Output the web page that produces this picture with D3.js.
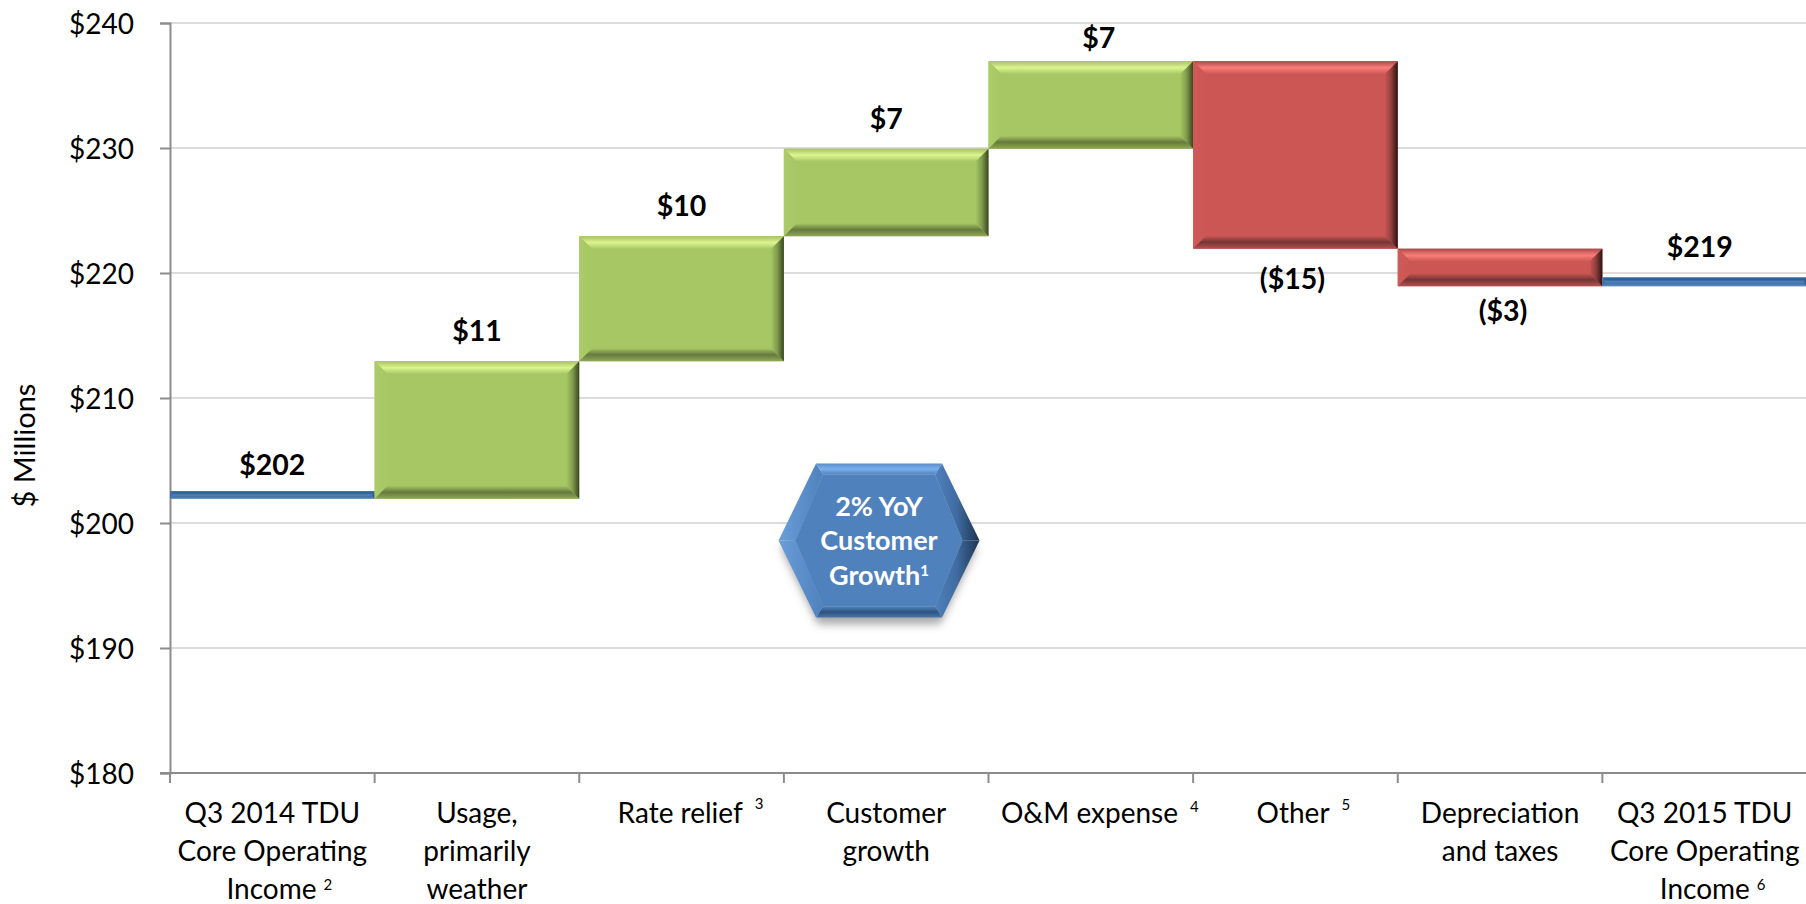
<!DOCTYPE html>
<html><head><meta charset="utf-8">
<style>html,body{margin:0;padding:0;background:#fff;overflow:hidden}svg{display:block}text{font-family:Lato,"Open Sans",sans-serif}</style>
<script src="https://cdn.jsdelivr.net/npm/d3@7"></script></head><body><div id="c"></div>
<script>
const categories = ["Q3 2014 TDU Core Operating Income","Usage, primarily weather","Rate relief","Customer growth","O&M expense","Other","Depreciation and taxes","Q3 2015 TDU Core Operating Income"];
const categoryLines = [["Q3 2014 TDU","Core Operating","Income|2"],["Usage,","primarily","weather"],["Rate relief|3"],["Customer","growth"],["O&M expense|4"],["Other|5"],["Depreciation","and taxes"],["Q3 2015 TDU","Core Operating","Income|6"]];
const barLow  = [202, 202, 213, 223, 230, 222, 219, 219];
const barHigh = [202.6, 213, 223, 230, 237, 237, 222, 219.7];
const barKind = ["total","up","up","up","up","down","down","total"];
const barLabels = ["$202","$11","$10","$7","$7","($15)","($3)","$219"];
const yTicks = [180,190,200,210,220,230,240];
const calloutLines = ["2% YoY","Customer","Growth"];

const W=1806,H=904,m={l:170,r:1807,t:23,b:773};
const svg=d3.select("#c").append("svg").attr("width",W).attr("height",H);
const defs=svg.append("defs");
const x=d3.scaleBand().domain(categories).range([m.l,m.r]);
const y=d3.scaleLinear().domain([180,240]).range([m.b,m.t]);

const pal={
 up:{base:"#a6c764",t:["#a9c069","#dcf58f","#a6c764"],b:["#a6c764","#66793d","#8fa758"],l:["#accb6a","#a6c764"],r:["#a6c764","#7f9a4c","#39451f"]},
 down:{base:"#cb5653",t:["#a54a47","#fb7d79","#cb5653"],b:["#cb5653","#743533","#b4514e"],l:["#cf5a57","#cb5653"],r:["#cb5653","#8f3f3d","#2c1211"]},
 total:{base:"#4f81bd",t:["#3a689e","#2f5e96","#4f81bd"],b:["#4f81bd","#4472a8","#6590c0"],l:["#3a689e","#4f81bd"],r:["#4f81bd","#23456f"]},
 callout:{base:"#4f81bd",t:["#5a8cc8","#7ab0ec","#4f81bd"],b:["#4f81bd","#2f5380","#4a75a8"],l:["#6b9dd8","#4f81bd"],r:["#4f81bd","#3f6ba0","#1c3350"]}
};
function grad(id,stops,horizontal){
 const g=defs.append("linearGradient").attr("id",id).attr("x1",0).attr("y1",0).attr("x2",horizontal?1:0).attr("y2",horizontal?0:1);
 stops.forEach((c,i)=>g.append("stop").attr("offset",i/(stops.length-1)).attr("stop-color",c));
}
Object.entries(pal).forEach(([k,p])=>{grad(k+"T",p.t);grad(k+"B",p.b);grad(k+"L",p.l,true);grad(k+"R",p.r,true);});
const blur=defs.append("filter").attr("id","soft").attr("x","-20%").attr("y","-20%").attr("width","140%").attr("height","140%");
blur.append("feGaussianBlur").attr("stdDeviation",4);

// gridlines and axes
const gy=svg.append("g").attr("transform",`translate(${m.l},0)`)
 .call(d3.axisLeft(y).tickValues(yTicks).tickFormat(d=>"$"+d).tickSize(10).tickPadding(26));
gy.select(".domain").attr("stroke","#8c8c8c").attr("stroke-width",2);
gy.selectAll(".tick line").attr("stroke","#8c8c8c").attr("stroke-width",2);
gy.selectAll(".tick text").attr("font-size",28).attr("fill","#000").style("font-family","Lato").attr("dy","0.36em");
svg.insert("g",":first-child").selectAll("line").data(yTicks.slice(1)).join("line")
 .attr("x1",m.l).attr("x2",W).attr("y1",d=>y(d)).attr("y2",d=>y(d)).attr("stroke","#dcdcdc").attr("stroke-width",2);
svg.append("line").attr("x1",m.l-10).attr("x2",W).attr("y1",y(180)).attr("y2",y(180)).attr("stroke","#8c8c8c").attr("stroke-width",2);
svg.append("g").selectAll("line").data(d3.range(categories.length+1)).join("line")
 .attr("x1",i=>m.l+i*x.step()).attr("x2",i=>m.l+i*x.step()).attr("y1",y(180)).attr("y2",y(180)+10).attr("stroke","#8c8c8c").attr("stroke-width",2);

// bevelled bars
function bevel(g,px0,py0,px1,py1,kind,bw){
 const P=(a)=>a.map(q=>q.join(",")).join(" ");
 g.append("rect").attr("x",px0).attr("y",py0).attr("width",px1-px0).attr("height",py1-py0).attr("fill",pal[kind].base);
 const faces=[["T",[[px0,py0],[px1,py0],[px1-bw,py0+bw],[px0+bw,py0+bw]]],
  ["L",[[px0,py0],[px0+bw,py0+bw],[px0+bw,py1-bw],[px0,py1]]],
  ["B",[[px0,py1],[px0+bw,py1-bw],[px1-bw,py1-bw],[px1,py1]]],
  ["R",[[px1,py0],[px1,py1],[px1-bw,py1-bw],[px1-bw,py0+bw]]]];
 faces.forEach(([f,pts])=>g.append("polygon").attr("points",P(pts)).attr("fill",`url(#${kind}${f})`));
}
const barG=svg.append("g");
categories.forEach((c,i)=>{
 const x0=x(c),x1=x0+x.bandwidth(),t=y(barHigh[i])+0.7,b=y(barLow[i])+0.7;
 bevel(barG.append("g"),x0,t,x1,b,barKind[i],Math.min(13,(b-t)/2));
});

// value labels
const labelDx=[0,0,0,0,8,-3,3,-5], labelDy=[-2,-6,-6,-5,1,0,-6,-6];
svg.append("g").selectAll("text").data(categories).join("text")
 .attr("x",(c,i)=>x(c)+x.bandwidth()/2+labelDx[i])
 .attr("y",(c,i)=>(barKind[i]==="down"? y(barLow[i])+41 : y(barHigh[i])-14)+labelDy[i])
 .attr("text-anchor","middle").attr("font-size",28.5).attr("font-weight",700).attr("fill","#000")
 .text((c,i)=>barLabels[i]);

// category labels; superscript notes carry their own small offsets
const noteStyle={2:{dx:7,dy:-9,shift:7},3:{dx:12,dy:-14,shift:9},4:{dx:12,dy:-11,shift:9},5:{dx:12,dy:-13,shift:8},6:{dx:7,dy:-9,shift:8}};
const catG=svg.append("g");
categories.forEach((c,i)=>{
 categoryLines[i].forEach((ln,j)=>{
  const [s,sup]=ln.split("|"), st=noteStyle[sup]||{shift:0};
  const t=catG.append("text").attr("x",x(c)+x.bandwidth()/2+st.shift).attr("y",y(180)+50+j*37.75)
   .attr("text-anchor","middle").attr("font-size",28).attr("fill","#000");
  t.append("tspan").text(s);
  if(sup) t.append("tspan").attr("dx",st.dx).attr("dy",st.dy).attr("font-size",15).text(sup);
 });
});

// axis title
svg.append("text").attr("transform",`translate(35,${y(206.2)}) rotate(-90)`).attr("text-anchor","middle").attr("font-size",29).attr("fill","#000").text("$ Millions");

// hexagon callout
const hx=x(categories[3])+x.bandwidth()*0.465, hy=y(198.6), hw=100.5, hs=63, hh=77;
const hex=[[-hw,0],[-hs,-hh],[hs,-hh],[hw,0],[hs,hh],[-hs,hh]];
const hg=svg.append("g");
hg.append("polygon").attr("points",hex.map(p=>[hx+p[0]*0.97,hy+p[1]*0.97+9].join(",")).join(" ")).attr("fill","#555").attr("opacity",.5).attr("filter","url(#soft)");
const inset=[[-hw+17,0],[-hs+7,-hh+11],[hs-7,-hh+11],[hw-17,0],[hs-7,hh-11],[-hs+7,hh-11]];
hex.forEach((p,i)=>{
 const q=(i+1)%6;
 const face=[hx+hex[i][0],hy+hex[i][1],hx+hex[q][0],hy+hex[q][1],hx+inset[q][0],hy+inset[q][1],hx+inset[i][0],hy+inset[i][1]];
 const k=["L","T","R","R","B","L"][i];
 hg.append("polygon").attr("points",face.join(" ")).attr("fill",`url(#callout${k})`);
});
hg.append("polygon").attr("points",inset.map(p=>[hx+p[0],hy+p[1]].join(",")).join(" ")).attr("fill",pal.callout.base);
calloutLines.forEach((s,i)=>{
 const t=hg.append("text").attr("x",hx).attr("y",hy-25+i*34.5).attr("text-anchor","middle").attr("font-size",27).attr("font-weight",700).attr("fill","#fff").text(s);
 if(i===2) t.append("tspan").attr("dy",-9).attr("font-size",15).text("1");
});
</script></body></html>
